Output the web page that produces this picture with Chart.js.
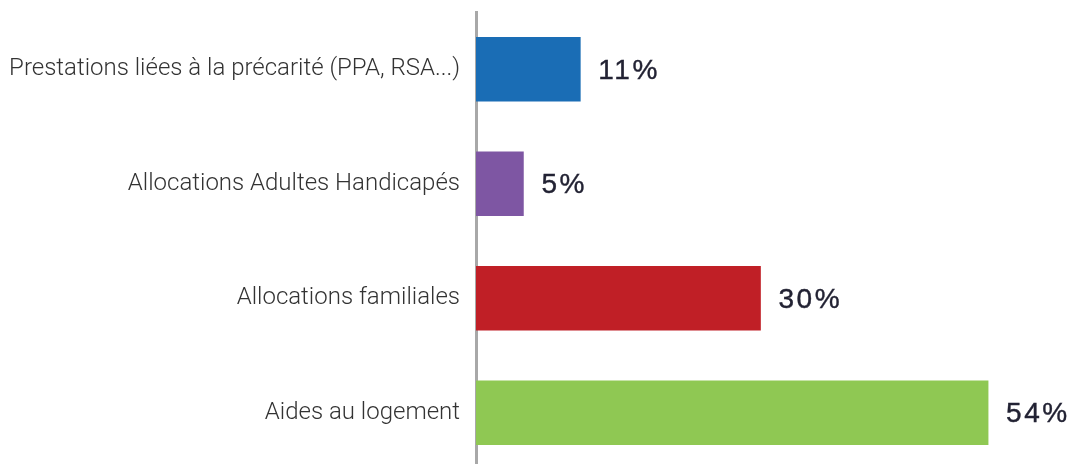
<!DOCTYPE html>
<html>
<head>
<meta charset="utf-8">
<script src="https://cdn.jsdelivr.net/npm/chart.js@4/dist/chart.umd.min.js"></script>
<style>
  html, body { margin: 0; padding: 0; background: #fff; overflow: hidden; }
  #wrap { width: 1069px; height: 472px; }
</style>
</head>
<body>
<div id="wrap"><canvas id="barChart"></canvas></div>
<script>
const categories = [
    "Prestations liées à la précarité (PPA, RSA...)",
    "Allocations Adultes Handicapés",
    "Allocations familiales",
    "Aides au logement"
];
const shares = [11, 5, 30, 54];
const barColors = ["#1a6db5", "#7e56a3", "#c01f26", "#8fc853"];

// value labels at the end of each bar
const valueLabels = {
    id: "valueLabels",
    afterDatasetsDraw(chart) {
        const ctx = chart.ctx;
        const meta = chart.getDatasetMeta(0);
        ctx.save();
        ctx.font = "28px Arial, 'Liberation Sans', sans-serif";
        ctx.letterSpacing = "2.5px";
        ctx.fillStyle = "#222233";
        ctx.strokeStyle = "#222233";
        ctx.lineWidth = 0.4;
        ctx.textAlign = "left";
        ctx.textBaseline = "middle";
        meta.data.forEach((bar, i) => {
            const x = bar.x + 18, y = bar.y + 2;
            ctx.fillText(shares[i] + "%", x, y);
            ctx.strokeText(shares[i] + "%", x, y);
        });
        ctx.restore();
    }
};

new Chart(document.getElementById("barChart"), {
    type: "bar",
    data: {
        labels: categories,
        datasets: [{
            data: shares,
            backgroundColor: barColors,
            barThickness: 64
        }]
    },
    options: {
        indexAxis: "y",
        responsive: true,
        maintainAspectRatio: false,
        animation: false,
        layout: {
            padding: { top: 12, bottom: 2, left: 0, right: 24 }
        },
        plugins: {
            legend: { display: false },
            tooltip: { enabled: false }
        },
        scales: {
            x: {
                min: 0,
                max: 60,
                display: false
            },
            y: {
                afterFit(scale) {
                    scale.width = 476;
                    scale.paddingTop = 0;
                    scale.paddingBottom = 0;
                },
                grid: { display: false, drawTicks: false },
                border: { display: true, color: "#a8a8a8", width: 3 },
                ticks: {
                    padding: 16,
                    color: "#333333",
                    font: { family: "Roboto, sans-serif", size: 24, weight: 300 }
                }
            }
        }
    },
    plugins: [valueLabels]
});
</script>
</body>
</html>
